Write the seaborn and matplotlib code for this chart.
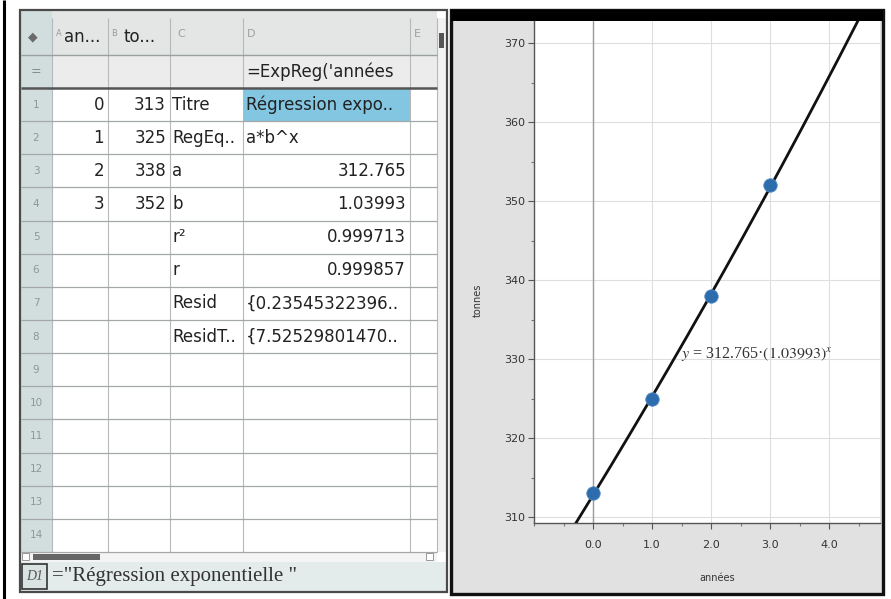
import matplotlib
matplotlib.use("Agg")
import matplotlib.pyplot as plt
from matplotlib.patches import Rectangle
from matplotlib.ticker import MultipleLocator, FormatStrFormatter
import seaborn as sns
import numpy as np
import pandas as pd

# données du tableur
annees = [0, 1, 2, 3]
tonnes = [313, 325, 338, 352]
col_c = ["Titre", "RegEq..", "a", "b", "r²", "r", "Resid", "ResidT.."]
col_d = ["Régression expo..", "a*b^x", "312.765", "1.03993",
         "0.999713", "0.999857", "{0.23545322396..", "{7.52529801470.."]
d_right = [False, False, True, True, True, True, False, False]
reg_a = 312.765
reg_b = 1.03993
y_ticks = [310, 320, 330, 340, 350, 360, 370]
x_ticks = [0.0, 1.0, 2.0, 3.0, 4.0]

sns.set_theme(style="white")
plt.rcParams['font.family'] = ['DejaVu Sans']
plt.rcParams['mathtext.fontset'] = 'stix'

fig = plt.figure(figsize=(8.91, 5.99), dpi=100)
bg = fig.add_axes([0, 0, 1, 1])
bg.set_xlim(0, 891)
bg.set_ylim(599, 0)
bg.axis('off')


def rect(x, y, w, h, fc='none', ec='none', lw=0, z=1):
    bg.add_patch(Rectangle((x, y), w, h, facecolor=fc, edgecolor=ec, linewidth=lw, zorder=z))


def line(x0, y0, x1, y1, c='#aaaaaa', lw=0.8, z=2):
    bg.plot([x0, x1], [y0, y1], color=c, lw=lw, zorder=z, solid_capstyle='butt')


# bord de page
line(4, 0, 4, 599, c='black', lw=2.2)

# ---- tableur ----
cols = [21, 52, 108, 170, 243, 410, 437]
top, head_b, eq_b = 10, 55, 88
row_h = (552 - eq_b) / 14
rect(20, 10, 427, 582, fc='white')
rect(21, top, 416, head_b - top, fc='#e4e6e6')
rect(21, head_b, 416, eq_b - head_b, fc='#ececec')
rect(21, top, 31, 552 - top, fc='#d2dede')
rect(243, eq_b, 167, row_h, fc='#82c6e2')

for x in cols[1:]:
    line(x, top + 8, x, 552, c='#b5b9b9')
line(21, head_b, 437, head_b, c='#9aa0a0', lw=1)
line(21, eq_b, 437, eq_b, c='#555555', lw=1.8)
for i in range(1, 15):
    yy = eq_b + i * row_h
    line(21, yy, 437, yy, c='#a5a8a8', lw=0.9)

# barres de défilement
rect(437, 18, 10, 534, fc='#f2f2f2')
rect(438.5, 33, 5, 15, fc='#555555', z=3)
rect(21, 552, 416, 10, fc='#f4f4f4')
rect(33, 553.5, 67, 6, fc='#666666', z=3)
rect(22, 553, 7, 7, fc='white', ec='#888888', lw=0.6, z=3)
rect(426, 553, 7, 7, fc='white', ec='#888888', lw=0.6, z=3)

# barre de formule
rect(21, 562, 426, 29, fc='#e3ecea')
rect(22, 564, 25, 25, fc='#d9e4e2', ec='#333333', lw=1.2, z=3)
bg.text(34.5, 577, "D1", family='Liberation Serif', style='italic', fontsize=10,
        color='#555555', ha='center', va='center', zorder=4)
bg.text(52, 577, '="Régression exponentielle "', family='Liberation Serif',
        fontsize=15, color='#333333', ha='left', va='center', zorder=4)
rect(20, 10, 427, 582, ec='#4a4a4a', lw=1.6, z=5)

# en-têtes
fs = 12
hy = 37
bg.text(33, hy, "◆", fontsize=9, color='#6a6a6a', ha='center', va='center')
bg.text(56, hy - 4, "A", fontsize=6, color='#999999', ha='left', va='center')
bg.text(64, hy, "an...", fontsize=fs, color='#222222', ha='left', va='center')
bg.text(111, hy - 4, "B", fontsize=6, color='#999999', ha='left', va='center')
bg.text(124, hy, "to...", fontsize=fs, color='#222222', ha='left', va='center')
bg.text(177, hy - 3, "C", fontsize=8, color='#a0a0a0', ha='left', va='center')
bg.text(247, hy - 3, "D", fontsize=8, color='#a0a0a0', ha='left', va='center')
bg.text(414, hy - 3, "E", fontsize=8, color='#a0a0a0', ha='left', va='center')
bg.text(36, (head_b + eq_b) / 2, "=", fontsize=9, color='#888888', ha='center', va='center')
bg.text(246, (head_b + eq_b) / 2, "=ExpReg('années", fontsize=fs, color='#222222',
        ha='left', va='center')

for i in range(14):
    cy = eq_b + (i + 0.5) * row_h
    bg.text(36, cy, str(i + 1), fontsize=7.5, color='#8c9999', ha='center', va='center', zorder=4)

for i, (a, t) in enumerate(zip(annees, tonnes)):
    cy = eq_b + (i + 0.5) * row_h
    bg.text(104, cy, str(a), fontsize=fs, color='#222222', ha='right', va='center', zorder=4)
    bg.text(166, cy, str(t), fontsize=fs, color='#222222', ha='right', va='center', zorder=4)

for i, (c, d, r) in enumerate(zip(col_c, col_d, d_right)):
    cy = eq_b + (i + 0.5) * row_h
    bg.text(172, cy, c, fontsize=fs, color='#222222', ha='left', va='center', zorder=4)
    if r:
        bg.text(406, cy, d, fontsize=fs, color='#222222', ha='right', va='center', zorder=4)
    else:
        bg.text(246, cy, d, fontsize=fs, color='#222222', ha='left', va='center', zorder=4)

# ---- graphique ----
rect(451, 10, 432, 584, fc='#e1e1e1')
rect(451, 10, 432, 584, ec='#111111', lw=2.4, z=5)
rect(451, 10, 432, 11, fc='black', z=5)
bg.text(478, 300, "tonnes", fontsize=7, color='#333333', rotation=90, ha='center', va='center')
bg.text(717, 578, "années", fontsize=7, color='#333333', ha='center', va='center')

ax = fig.add_axes([534 / 891, 1 - 523 / 599, (880 - 534) / 891, (523 - 21) / 599])
ax.set_facecolor('white')

df = pd.DataFrame({'années': annees, 'tonnes': tonnes})
xs = np.linspace(-1.0, 4.86, 200)
courbe = pd.DataFrame({'x': xs, 'y': reg_a * reg_b ** xs})

ax.axvline(0, color='#9c9c9c', lw=1.0, zorder=1)
sns.lineplot(data=courbe, x='x', y='y', color='#111111', lw=2, ax=ax, zorder=3)
sns.scatterplot(data=df, x='années', y='tonnes', color='#2e6dad', s=95,
                edgecolor='#5a8fc4', linewidth=0.5, ax=ax, zorder=4)

ax.set_xlim(-1.0, 4.86)
ax.set_ylim(309.24, 372.8)
ax.set_xticks(x_ticks)
ax.set_yticks(y_ticks)
ax.xaxis.set_major_formatter(FormatStrFormatter('%.1f'))
ax.xaxis.set_minor_locator(MultipleLocator(0.5))
ax.yaxis.set_minor_locator(MultipleLocator(5))
ax.grid(True, which='major', color='#dedede', lw=0.8)
ax.set_axisbelow(True)
ax.tick_params(axis='both', which='major', direction='out', length=4, width=0.8,
               color='#555555', labelsize=8, labelcolor='#333333', pad=2,
               left=True, bottom=True)
ax.tick_params(axis='both', which='minor', direction='out', length=2, width=0.8,
               color='#777777', left=True, bottom=True)
ax.tick_params(axis='x', pad=8)
ax.set_xlabel('')
ax.set_ylabel('')
for s in ['top', 'right']:
    ax.spines[s].set_visible(False)
for s in ['left', 'bottom']:
    ax.spines[s].set_color('#555555')
    ax.spines[s].set_linewidth(1.0)

ax.text(1.49, 330.7, r"$y$ = 312.765·$\left(1.03993\right)^x$", family='Liberation Serif',
        fontsize=11.5, color='#333333', ha='left', va='center', zorder=5)

fig.savefig('out.png', dpi=100)
